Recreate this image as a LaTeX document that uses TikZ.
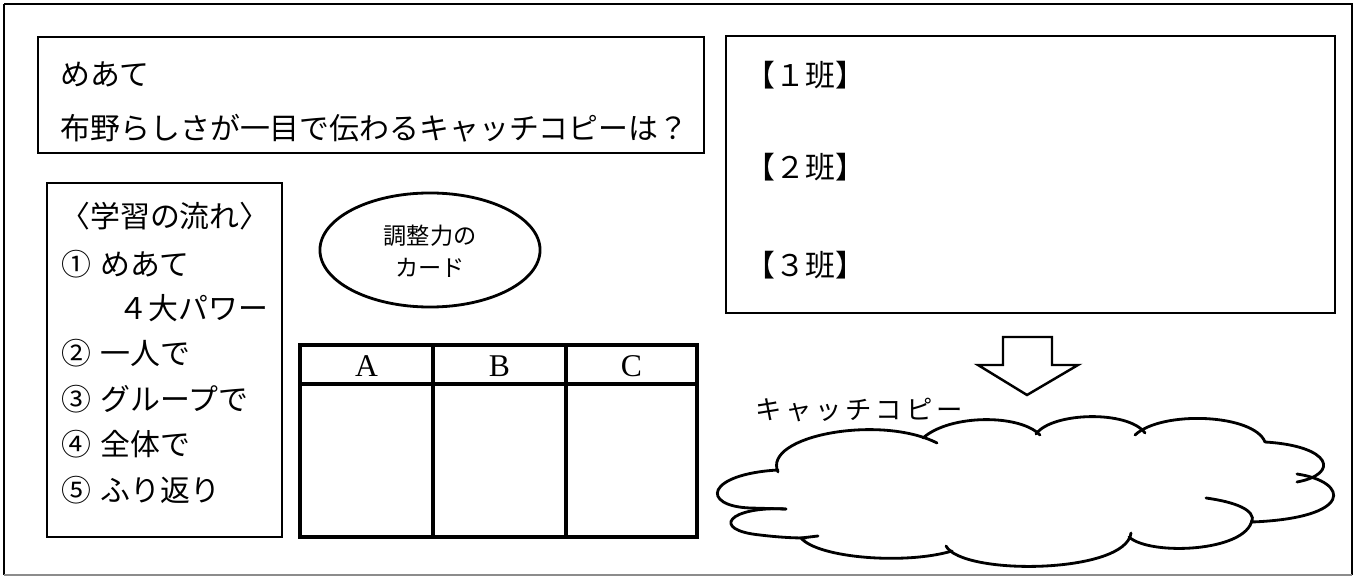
\documentclass[tikz,border=0pt]{standalone}
\usepackage{fontspec}
\setmainfont{Liberation Serif}
\newfontfamily\jp{Noto Sans CJK JP}
\newfontfamily\jpwide[LetterSpace=14]{Noto Sans CJK JP}
\usetikzlibrary{shapes.geometric}
\tikzset{
  txt/.style={inner sep=0pt, anchor=west, font=\jp\fontsize{8.5pt}{10pt}\selectfont},
  ctxt/.style={inner sep=0pt, font=\jp\fontsize{8.5pt}{10pt}\selectfont},
  boxline/.style={draw=black, line width=0.55pt},
  tblline/.style={draw=black, line width=0.9pt},
  cloudline/.style={draw=black, line width=0.8pt, line cap=round},
  latin/.style={inner sep=0pt, font=\fontsize{9pt}{10pt}\selectfont}
}
\begin{document}
\begin{tikzpicture}[x=0.01cm, y=-0.01cm]
\useasboundingbox (0,0) rectangle (1357,579);
% outer frame
\draw[boxline] (4,4) -- (1352,4) -- (1352,575);
\draw[boxline] (4,4) -- (4,575);
\draw[draw=black!45, line width=0.6pt] (4,575) -- (1352,575);

% top-left box
\draw[boxline] (38,37) rectangle (704,153);
\node[txt] (meate) at (60,74) {めあて};
\node[txt] (q) at (60,128) {布野らしさが一目で伝わるキャッチコピーは？};

% right box
\draw[boxline] (726,36) rectangle (1335,313);
\node[txt] (h1) at (745,75) {【１班】};
\node[txt] (h2) at (745,167) {【２班】};
\node[txt] (h3) at (745,265) {【３班】};

% left list box
\draw[boxline] (47,183) rectangle (282,537);
\node[ctxt] (title) at (165,216) {〈学習の流れ〉};
\node[txt] (n1) at (61,264) {①};
\node[txt] (t1) at (100,264) {めあて};
\node[txt] (t1b) at (118,308) {４大パワー};
\node[txt] (n2) at (61,353) {②};
\node[txt] (t2) at (100,353) {一人で};
\node[txt] (n3) at (61,399) {③};
\node[txt] (t3) at (100,399) {グループで};
\node[txt] (n4) at (61,444) {④};
\node[txt] (t4) at (100,444) {全体で};
\node[txt] (n5) at (61,490) {⑤};
\node[txt] (t5) at (100,490) {ふり返り};

% ellipse
\node[draw=black, line width=0.8pt, ellipse, minimum width=2.2cm, minimum height=1.14cm, inner sep=0pt] (card) at (430,250) {};
\node[inner sep=0pt, font=\jp\fontsize{6.6pt}{8pt}\selectfont] (c1) at (430,236) {調整力の};
\node[inner sep=0pt, font=\jp\fontsize{6.6pt}{8pt}\selectfont] (c2) at (430,268) {カード};

% table
\draw[tblline] (300,345) rectangle (697,537);
\draw[tblline] (300,384) -- (697,384);
\draw[tblline] (433,345) -- (433,537);
\draw[tblline] (566,345) -- (566,537);
\node[latin] (A) at (366.5,366) {A};
\node[latin] (B) at (499.5,366) {B};
\node[latin] (C) at (631.5,366) {C};

% arrow
\draw[boxline, line width=0.7pt, line join=miter] (1003,337) -- (1052,337) -- (1052,365) -- (1078,365) -- (1027,395) -- (978,365) -- (1003,365) -- cycle;

% catch copy label
\node[inner sep=0pt, anchor=west, font=\jpwide\fontsize{7.5pt}{9pt}\selectfont] (cc) at (755,410) {キャッチコピー};

% cloud
\draw[cloudline] (778,472) .. controls (762,436) and (880,414) .. (937,443);
\draw[cloudline] (923,438) .. controls (950,414) and (1020,414) .. (1040,435);
\draw[cloudline] (1036,434) .. controls (1052,412) and (1128,410) .. (1145,433);
\draw[cloudline] (1135,435) .. controls (1162,410) and (1254,414) .. (1265,442);
\draw[cloudline] (1265,442) .. controls (1332,446) and (1340,474) .. (1297,482);
\draw[cloudline] (1297,474) .. controls (1350,482) and (1354,518) .. (1252,522);
\draw[cloudline] (1206,498) .. controls (1235,502) and (1256,510) .. (1252,522);
\draw[cloudline] (1252,520) .. controls (1246,552) and (1150,556) .. (1129,537);
\draw[cloudline] (1131,533) .. controls (1126,574) and (962,576) .. (946,546);
\draw[cloudline] (952,551) .. controls (905,565) and (818,558) .. (801,538) -- (818,536);
\draw[cloudline] (786,509) .. controls (728,506) and (710,530) .. (760,535) .. controls (785,538) and (800,538) .. (806,538);
\draw[cloudline] (778,470) .. controls (706,474) and (700,506) .. (750,508) -- (786,509);
\end{tikzpicture}
\end{document}
